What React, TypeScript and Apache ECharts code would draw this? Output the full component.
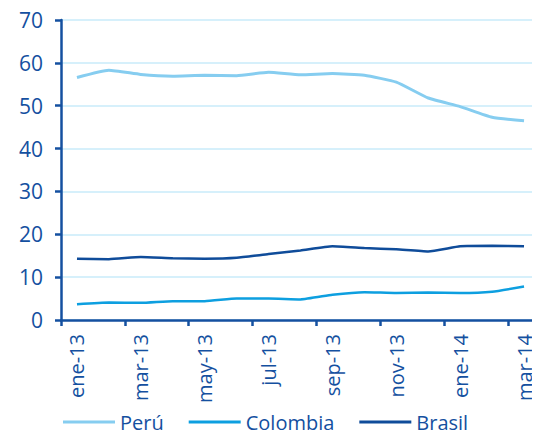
import React, { useEffect, useRef } from "react";
import * as echarts from "echarts";

const months = [
  "ene-13", "feb-13", "mar-13", "abr-13", "may-13", "jun-13", "jul-13", "ago-13",
  "sep-13", "oct-13", "nov-13", "dic-13", "ene-14", "feb-14", "mar-14",
];
const peru = [56.6, 58.3, 57.3, 56.9, 57.1, 57.0, 57.8, 57.2, 57.5, 57.1, 55.5, 51.8, 49.8, 47.3, 46.5];
const colombia = [3.7, 4.1, 4.0, 4.4, 4.4, 5.0, 5.0, 4.8, 5.9, 6.5, 6.3, 6.4, 6.3, 6.6, 7.8];
const brasil = [14.3, 14.2, 14.7, 14.4, 14.3, 14.5, 15.4, 16.2, 17.2, 16.8, 16.5, 16.0, 17.2, 17.3, 17.2];

const AXIS_BLUE = "#1450a0";
const FONT = "'Open Sans', 'Noto Sans', sans-serif";

export default function App() {
  const ref = useRef<HTMLDivElement>(null);

  useEffect(() => {
    if (!ref.current) return;
    const chart = echarts.init(ref.current, undefined, { renderer: "svg" });
    const mkSeries = (name: string, data: number[], color: string, width: number) => ({
      name,
      type: "line",
      data,
      symbol: "none",
      smooth: 0.15,
      lineStyle: { color, width },
      itemStyle: { color },
    });
    chart.setOption({
      animation: false,
      textStyle: { fontFamily: FONT },
      grid: { left: 61, top: 20, width: 480, height: 300 },
      legend: {
        top: 407,
        left: 58,
        icon: "rect",
        itemWidth: 52,
        itemHeight: 3,
        itemGap: 25,
        textStyle: { color: AXIS_BLUE, fontSize: 20, fontFamily: FONT },
        data: ["Perú", "Colombia", "Brasil"],
      },
      xAxis: {
        type: "category",
        data: months,
        boundaryGap: true,
        axisLine: { lineStyle: { color: AXIS_BLUE, width: 2.5 } },
        axisTick: { show: true, interval: 1, length: 6, inside: false, lineStyle: { color: AXIS_BLUE, width: 2.5 } },
        axisLabel: { interval: 1, rotate: 90, margin: 14, color: AXIS_BLUE, fontSize: 20, fontFamily: FONT },
        splitLine: { show: false },
      },
      yAxis: {
        type: "value",
        min: 0,
        max: 70,
        interval: 10,
        axisLine: { show: true, lineStyle: { color: AXIS_BLUE, width: 2.5 } },
        axisTick: { show: true, length: 6, lineStyle: { color: AXIS_BLUE, width: 2.5 } },
        axisLabel: { margin: 18, color: AXIS_BLUE, fontSize: 21, fontFamily: FONT },
        splitLine: { lineStyle: { color: "#c9ebfa", width: 1.5 } },
      },
      series: [
        mkSeries("Perú", peru, "#86cdf0", 3),
        mkSeries("Colombia", colombia, "#0d9fe0", 2.5),
        mkSeries("Brasil", brasil, "#0f4c9a", 2.5),
      ],
    });
    return () => chart.dispose();
  }, []);

  return <div ref={ref} style={{ width: 540, height: 439, margin: -8 }} />;
}
